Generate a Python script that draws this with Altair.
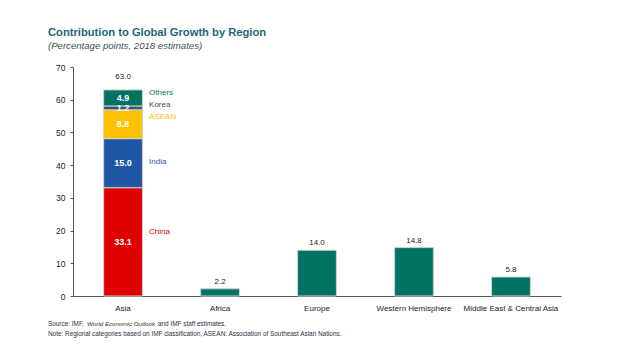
import altair as alt
import pandas as pd

regions = ["Asia", "Africa", "Europe", "Western Hemisphere", "Middle East & Central Asia"]
totals = [63.0, 2.2, 14.0, 14.8, 5.8]
asia_parts = ["China", "India", "ASEAN", "Korea", "Others"]
asia_values = [33.1, 15.0, 8.8, 1.2, 4.9]
part_colors = ["#e00000", "#1f57a5", "#ffc000", "#3d5566", "#007363"]
label_colors = ["#e00000", "#1f57a5", "#f0a800", "#5a6b78", "#007363"]
label_shift = [3.0, 0.3, 2.2, 0.9, 1.6]  # label nudge in data units relative to segment middle

FONT = "Liberation Sans"
FOOT = "#2a2f3a"

rows = []
cum = 0.0
for i, (p, v) in enumerate(zip(asia_parts, asia_values)):
    rows.append(dict(region="Asia", part=p, value=v, start=cum, end=cum + v,
                     mid=cum + v / 2, lab=cum + v / 2 + label_shift[i], order=i,
                     txt=f"{v:.1f}"))
    cum += v
for r, t in zip(regions[1:], totals[1:]):
    rows.append(dict(region=r, part="Region", value=t, start=0.0, end=t,
                     mid=t / 2, lab=t / 2, order=0, txt=f"{t:.1f}"))
df = pd.DataFrame(rows)
tot_df = pd.DataFrame(dict(region=regions, total=totals, txt=[f"{t:.1f}" for t in totals]))

x_axis = alt.Axis(labelAngle=0, ticks=False, domainColor="#555",
                  labelFontSize=8, labelColor="#222", labelPadding=8,
                  labelFont=FONT)
y_axis = alt.Axis(values=list(range(0, 71, 10)), grid=False, tickSize=3,
                  domainColor="#555", tickColor="#555", labelFontSize=8.5,
                  labelColor="#222", labelPadding=5, labelFont=FONT,
                  labelOverlap=False, labelFlush=False)
x_scale = alt.Scale(paddingInner=0.6, paddingOuter=0.316)
y_scale = alt.Scale(domain=[0, 70], nice=False)


def X():
    return alt.X("region:N", sort=regions, title=None, scale=x_scale, axis=x_axis)


def Y(field):
    return alt.Y(field, title=None, scale=y_scale, axis=y_axis)


color_scale = alt.Scale(domain=asia_parts + ["Region"], range=part_colors + ["#007363"])

bars = alt.Chart(df).mark_bar(stroke="#d0d0d0", strokeWidth=1).encode(
    x=X(), y=Y("start:Q"), y2="end:Q",
    color=alt.Color("part:N", scale=color_scale, legend=None),
)

inner = alt.Chart(df[df.region == "Asia"]).mark_text(
    color="white", fontWeight="bold", fontSize=9, font=FONT, baseline="middle"
).encode(x=X(), y=Y("mid:Q"), text="txt:N")

side = alt.Chart(df[df.region == "Asia"]).mark_text(
    align="left", dx=26, fontSize=8, font=FONT, baseline="middle"
).encode(
    x=X(), y=Y("lab:Q"), text="part:N",
    color=alt.Color("part:N", scale=alt.Scale(domain=asia_parts, range=label_colors), legend=None),
)

tops_asia = alt.Chart(tot_df[tot_df.region == "Asia"]).mark_text(
    dy=-13, fontSize=8, font=FONT, color="#222", baseline="middle"
).encode(x=X(), y=Y("total:Q"), text="txt:N")
tops = alt.Chart(tot_df[tot_df.region != "Asia"]).mark_text(
    dy=-7, fontSize=8, font=FONT, color="#222", baseline="middle"
).encode(x=X(), y=Y("total:Q"), text="txt:N")

foot_a = alt.Chart(pd.DataFrame({"t": ["Source: IMF, "]})).mark_text(
    align="left", fontSize=6.4, font=FONT, color=FOOT, baseline="middle"
).encode(x=alt.value(-25), y=alt.value(257), text="t:N")
foot_b = alt.Chart(pd.DataFrame({"t": ["World Economic Outlook"]})).mark_text(
    align="left", fontSize=6.2, font=FONT, color=FOOT, fontStyle="italic", baseline="middle"
).encode(x=alt.value(14), y=alt.value(257), text="t:N")
foot_c = alt.Chart(pd.DataFrame({"t": ["and IMF staff estimates."]})).mark_text(
    align="left", fontSize=6.4, font=FONT, color=FOOT, baseline="middle"
).encode(x=alt.value(85), y=alt.value(257), text="t:N")
foot_d = alt.Chart(pd.DataFrame({"t": ["Note: Regional categories based on IMF classification, ASEAN: Association of Southeast Asian Nations."]})).mark_text(
    align="left", fontSize=6.4, font=FONT, color=FOOT, baseline="middle"
).encode(x=alt.value(-25), y=alt.value(267), text="t:N")

chart = alt.layer(bars, inner, side, tops_asia, tops, foot_a, foot_b, foot_c, foot_d).properties(
    width=488, height=229,
    autosize=alt.AutoSizeParams(type="none"),
    padding={"left": 73, "top": 67, "right": 79, "bottom": 56},
    title=alt.TitleParams(
        "Contribution to Global Growth by Region",
        subtitle="(Percentage points, 2018 estimates)",
        anchor="start", frame="group", dx=-25, offset=12,
        font=FONT, fontSize=11.2, fontWeight="bold", color="#1a6a78",
        subtitleFont=FONT, subtitleFontSize=9.6, subtitleFontStyle="italic",
        subtitleColor="#3a4f5c", subtitlePadding=3,
    ),
).configure_view(stroke=None)

chart.save("out.html", embed_options={"renderer": "svg", "actions": False})
